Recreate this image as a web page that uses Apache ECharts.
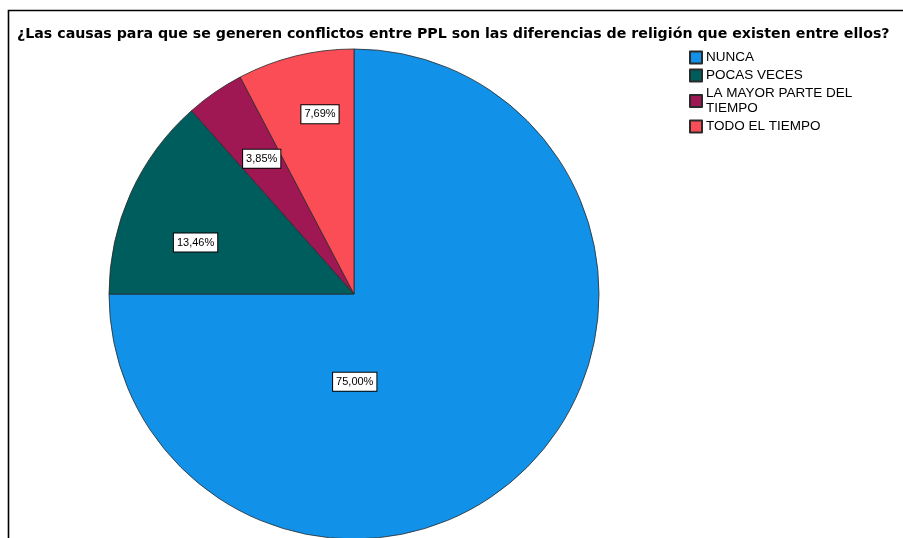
<!DOCTYPE html>
<html>
<head>
<meta charset="utf-8">
<script src="https://cdn.jsdelivr.net/npm/echarts@6/dist/echarts.min.js"></script>
<style>html,body{margin:0;padding:0;background:#fff;}#c{width:903px;height:538px;}</style>
</head>
<body>
<div id="c"></div>
<script>
const titleText = '¿Las causas para que se generen conflictos entre PPL son las diferencias de religión que existen entre ellos?';
const categories = ['NUNCA', 'POCAS VECES', 'LA MAYOR PARTE DEL TIEMPO', 'TODO EL TIEMPO'];
const legendLabels = ['NUNCA', 'POCAS VECES', 'LA MAYOR PARTE DEL\nTIEMPO', 'TODO EL TIEMPO'];
const percents = [75.00, 13.46, 3.85, 7.69];
const colors = ['#1192e8', '#005d5d', '#9f1853', '#fa4d56'];
const labelOffsets = [[-88, -1], [-44, 0], [-21, -32], [-4, -58]];

const chart = echarts.init(document.getElementById('c'), null, {renderer: 'canvas'});
const FONT = '"Liberation Sans", Arial, sans-serif';
chart.setOption({
  animation: false,
  backgroundColor: '#fff',
  title: {
    text: titleText, left: 17, top: 27, padding: 0,
    textStyle: {fontFamily: '"DejaVu Sans", sans-serif', fontSize: 14.2, fontWeight: 'bold', color: '#000'}
  },
  legend: {
    orient: 'vertical', left: 689, top: 50, padding: 0,
    itemWidth: 12, itemHeight: 12, itemGap: 3, icon: 'rect',
    data: categories,
    formatter: function (n) { return legendLabels[categories.indexOf(n)]; },
    textStyle: {fontFamily: FONT, fontSize: 13.5, lineHeight: 15, color: '#000', padding: [0,0,0,-1]}
  },
  graphic: [{
    type: 'rect', shape: {x: 8.5, y: 10.5, width: 1200, height: 1200},
    style: {fill: 'none', stroke: '#000', lineWidth: 1.6}, silent: true, z: 100
  }],
  series: [{
    type: 'pie', center: [354, 294], radius: 245,
    startAngle: 90, clockwise: true,
    avoidLabelOverlap: false,
    itemStyle: {borderColor: '#2a2a2a', borderWidth: 0.8},
    emphasis: {disabled: true},
    label: {
      position: 'inside', fontFamily: FONT, fontSize: 11, color: '#000',
      backgroundColor: '#fff', borderColor: '#000', borderWidth: 1, padding: [4, 3, 3, 3],
      formatter: function (p) { return p.value.toFixed(2).replace('.', ',') + '%'; }
    },
    labelLine: {show: false},
    data: categories.map((c, i) => ({
      name: c, value: percents[i],
      itemStyle: {color: colors[i]},
      label: {offset: labelOffsets[i]}
    }))
  }]
});
</script>
</body>
</html>
